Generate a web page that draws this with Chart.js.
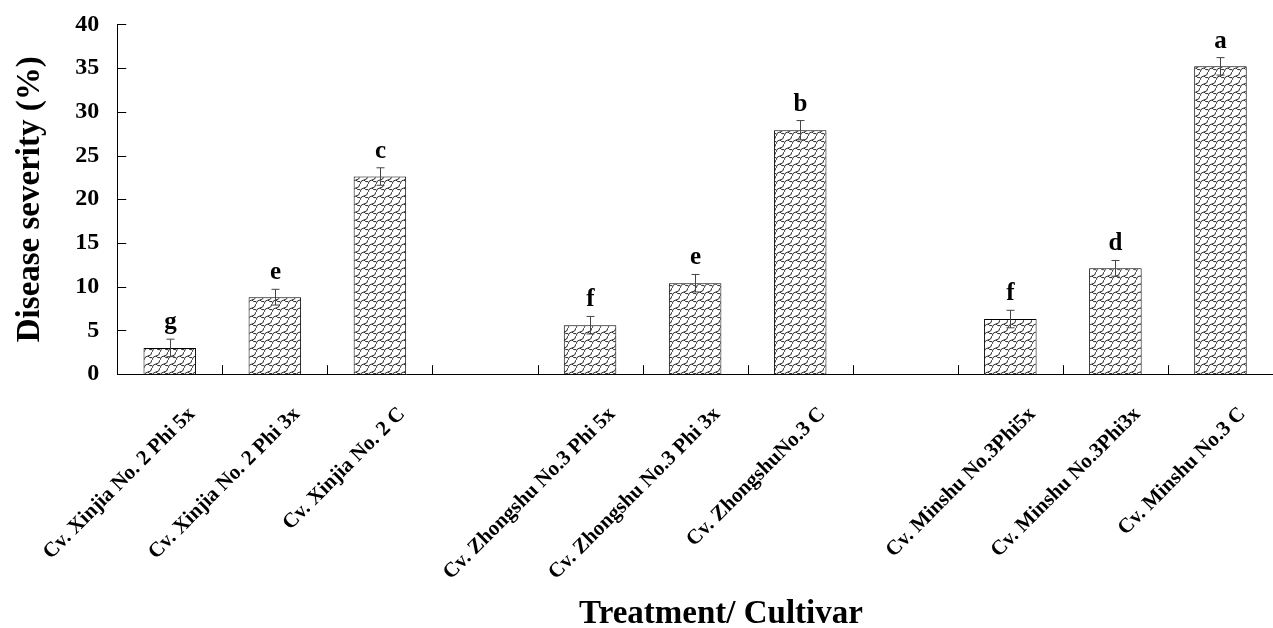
<!DOCTYPE html>
<html>
<head>
<meta charset="utf-8">
<script src="https://cdn.jsdelivr.net/npm/chart.js@4.4.1/dist/chart.umd.min.js"></script>
<style>
  html, body { margin: 0; padding: 0; background: #fff; }
  #wrap { width: 1273px; height: 628px; position: relative; }
</style>
</head>
<body>
<div id="wrap"><canvas id="chartSeveridade"></canvas></div>
<script>
// --- dados ---
const categorias = [
    'Cv. Xinjia No. 2 Phi 5x', 'Cv. Xinjia No. 2 Phi 3x', 'Cv. Xinjia No. 2 C', '',
    'Cv. Zhongshu No.3 Phi 5x', 'Cv. Zhongshu No.3 Phi 3x', 'Cv. ZhongshuNo.3 C', '',
    'Cv. Minshu No.3Phi5x', 'Cv. Minshu No.3Phi3x', 'Cv. Minshu No.3 C'
];
const severidade = [3.0, 8.8, 22.6, null, 5.6, 10.4, 27.9, null, 6.3, 12.1, 35.2];
const erros = [1.0, 0.9, 1.0, null, 1.0, 1.0, 1.1, null, 1.0, 0.9, 1.0];
const letras = ['g', 'e', 'c', '', 'f', 'e', 'b', '', 'f', 'd', 'a'];
const ticksY = [0, 5, 10, 15, 20, 25, 30, 35, 40];
const tituloX = 'Treatment/ Cultivar';

const FONTE = '"Liberation Serif", "Times New Roman", serif';

// textura tipo "escamas" para o preenchimento das barras
function criarTextura() {
    const c = document.createElement('canvas');
    c.width = 8; c.height = 8;
    const g = c.getContext('2d');
    g.fillStyle = '#fff';
    g.fillRect(0, 0, 8, 8);
    g.strokeStyle = '#111';
    g.lineWidth = 0.9;
    g.beginPath();
    g.moveTo(0, 8);
    g.quadraticCurveTo(0.8, 4, 4, 4);
    g.quadraticCurveTo(7.2, 4, 8, 0);
    g.moveTo(4, 4);
    g.quadraticCurveTo(5.6, 6.4, 8, 5.6);
    g.moveTo(0, 5.6);
    g.quadraticCurveTo(-1.6, 6.4, -4, 4);
    g.stroke();
    return g.createPattern(c, 'repeat');
}

// eixos com marcas para dentro, barras de erro, letras e título do eixo x
const pluginExtras = {
    id: 'extras',
    afterDatasetsDraw(chart) {
        const ctx = chart.ctx;
        const x = chart.scales.x, y = chart.scales.y;
        const area = chart.chartArea;
        ctx.save();
        ctx.strokeStyle = '#000';
        ctx.lineWidth = 1;
        // marcas do eixo y
        ticksY.forEach(v => {
            const py = Math.round(y.getPixelForValue(v)) + 0.5;
            ctx.beginPath();
            ctx.moveTo(area.left, py);
            ctx.lineTo(area.left + 9, py);
            ctx.stroke();
        });
        // marcas do eixo x entre categorias
        for (let i = 1; i < categorias.length; i++) {
            const px = Math.round((x.getPixelForValue(i - 1) + x.getPixelForValue(i)) / 2) + 0.5;
            ctx.beginPath();
            ctx.moveTo(px, area.bottom);
            ctx.lineTo(px, area.bottom - 9);
            ctx.stroke();
        }
        // barras de erro
        ctx.strokeStyle = '#444';
        severidade.forEach((v, i) => {
            if (v === null) return;
            const px = Math.round(x.getPixelForValue(i)) + 0.5;
            const yTop = y.getPixelForValue(v + erros[i]);
            const yBot = y.getPixelForValue(v - erros[i]);
            ctx.beginPath();
            ctx.moveTo(px, yTop); ctx.lineTo(px, yBot);
            ctx.moveTo(px - 4, yTop); ctx.lineTo(px + 4, yTop);
            ctx.moveTo(px - 4, yBot); ctx.lineTo(px + 4, yBot);
            ctx.stroke();
            // letra de significância
            ctx.fillStyle = '#000';
            ctx.font = 'bold 25px ' + FONTE;
            ctx.textAlign = 'center';
            ctx.textBaseline = 'alphabetic';
            ctx.fillText(letras[i], px, yTop - 10);
        });
        // título do eixo x (deslocado como no original)
        ctx.fillStyle = '#000';
        ctx.font = 'bold 33px ' + FONTE;
        ctx.textAlign = 'center';
        ctx.textBaseline = 'alphabetic';
        ctx.fillText(tituloX, 721, 623);
        ctx.restore();
    }
};

const ctxSev = document.getElementById('chartSeveridade');
new Chart(ctxSev.getContext('2d'), {
    type: 'bar',
    data: {
        labels: categorias,
        datasets: [{
            label: 'Disease severity',
            data: severidade,
            backgroundColor: criarTextura(),
            borderColor: '#000',
            borderWidth: 1,
            barPercentage: 0.5,
            categoryPercentage: 1.0
        }]
    },
    options: {
        responsive: true,
        maintainAspectRatio: false,
        animation: false,
        layout: { padding: { top: 0, right: -7, left: 3, bottom: 23 } },
        plugins: { legend: { display: false }, tooltip: { enabled: false } },
        scales: {
            x: {
                grid: { display: false },
                border: { display: true, color: '#000', width: 1 },
                ticks: {
                    color: '#000',
                    autoSkip: false,
                    maxRotation: 45,
                    minRotation: 45,
                    padding: 20,
                    labelOffset: 22,
                    font: { family: FONTE, size: 21, weight: 'bold' }
                }
            },
            y: {
                min: 0,
                max: 40,
                grid: { display: false },
                border: { display: true, color: '#000', width: 1 },
                ticks: {
                    stepSize: 5,
                    color: '#000',
                    padding: 10,
                    font: { family: FONTE, size: 24, weight: 'bold' }
                },
                title: {
                    display: true,
                    text: 'Disease severity (%)',
                    color: '#000',
                    padding: { top: 0, bottom: 15 },
                    font: { family: FONTE, size: 33, weight: 'bold' }
                }
            }
        }
    },
    plugins: [pluginExtras]
});
</script>
</body>
</html>
